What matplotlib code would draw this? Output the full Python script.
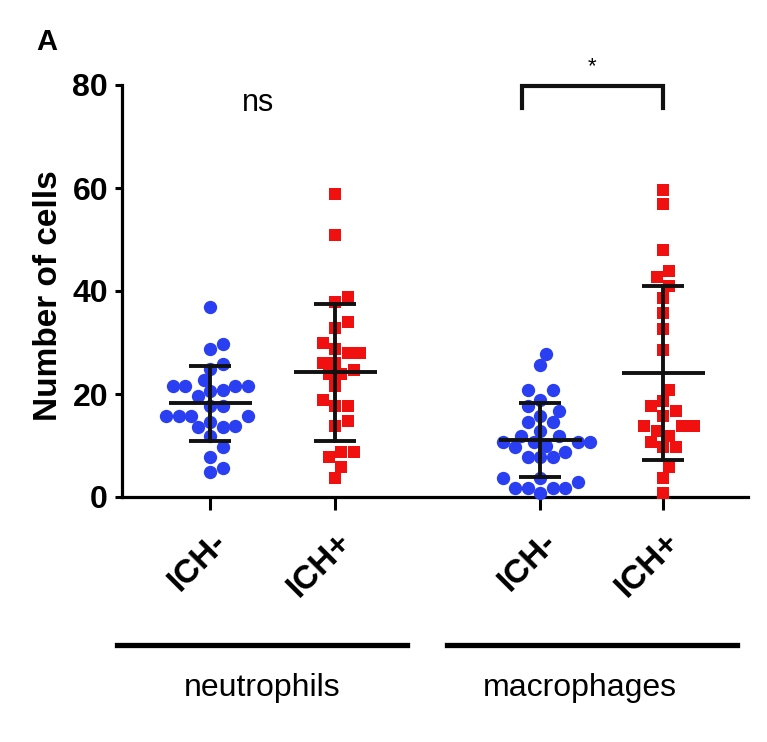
import numpy as np
import matplotlib
matplotlib.use('Agg')
import matplotlib.pyplot as plt
from matplotlib.lines import Line2D
from matplotlib.transforms import ScaledTranslation

plt.rcParams['font.family'] = ['Liberation Sans', 'DejaVu Sans']

# values
neut_neg = [36.8, 29.8, 28.8, 25.9, 24.9, 21.6, 21.6, 20.8, 20.6, 21.6, 21.6, 22.8,
            19.7, 17.7, 17.7, 15.8, 15.8, 15.8, 15.8, 14.6, 13.8, 13.6, 13.6, 11.9,
            9.7, 7.8, 5.6, 4.9]
neut_pos = [58.9, 50.8, 38.9, 37.9, 33.9, 32.9, 30.0, 28.8, 28.0, 28.0, 26.1, 26.1,
            23.8, 24.7, 23.8, 21.6, 18.9, 17.7, 17.7, 14.8, 13.8, 8.8, 8.8, 7.8,
            5.8, 3.7]
mac_neg = [27.8, 25.7, 20.8, 20.8, 18.9, 17.7, 16.7, 15.8, 14.6, 14.6, 12.8, 11.9,
           11.9, 10.7, 10.7, 10.7, 10.7, 9.9, 9.7, 8.8, 7.8, 7.8, 7.8, 3.7, 3.7,
           2.9, 1.8, 1.8, 1.8, 1.8, 0.8]
mac_pos = [59.7, 56.8, 47.9, 43.8, 42.8, 40.9, 38.7, 35.8, 32.7, 28.6, 20.8, 18.7,
           17.7, 16.7, 15.8, 13.8, 13.8, 13.8, 12.8, 11.9, 10.7, 9.7, 9.7, 5.8,
           3.7, 0.8]
means = [18.2, 24.2, 11.1, 24.05]
sds = [7.3, 13.3, 7.2, 16.85]
tick_labels = ['ICH-', 'ICH+', 'ICH-', 'ICH+']
groups = ['neutrophils', 'macrophages']

series = [neut_neg, neut_pos, mac_neg, mac_pos]
xpos = [1.0, 2.0, 3.64, 4.624]
colors = ['#2a3ef2', '#f01010', '#2a3ef2', '#f01010']
markers = ['o', 's', 'o', 's']

W, H = 767, 742
fig = plt.figure(figsize=(W/100, H/100), dpi=100)
ax = fig.add_axes([122/W, 1-497/H, 626/W, 412/H])
ax.set_xlim(0.296, 5.304)
ax.set_ylim(0, 80)


def swarm(x0, vals, d):
    # simple beeswarm in pixel space
    pts = ax.transData.transform(np.column_stack([np.full(len(vals), x0), vals]))
    cands = [0.0] + [s*k*d/2 for k in range(1, 30) for s in (1, -1)]
    placed = []
    offs = np.zeros(len(vals))
    for i in np.argsort(pts[:, 1]):
        y = pts[i, 1]
        for c in cands:
            if all((c-px)**2 + (y-py)**2 >= (0.97*d)**2 for px, py in placed):
                break
        placed.append((c, y))
        offs[i] = c
    back = ax.transData.inverted().transform(np.column_stack([pts[:, 0]+offs, pts[:, 1]]))
    return back[:, 0]


for x0, vals, c, m in zip(xpos, series, colors, markers):
    xs = swarm(x0, vals, 12.5)
    ax.scatter(xs, vals, s=92 if m == 'o' else 72, marker=m, color=c,
               linewidths=0, clip_on=False, zorder=3)

# mean and SD
for x0, mu, sd in zip(xpos, means, sds):
    ax.plot([x0-0.332, x0+0.332], [mu, mu], color='#111111', lw=2.8, zorder=4, solid_capstyle='butt')
    ax.plot([x0, x0], [mu-sd, mu+sd], color='#111111', lw=2.8, zorder=4)
    for yy in (mu-sd, mu+sd):
        ax.plot([x0-0.168, x0+0.168], [yy, yy], color='#111111', lw=2.8, zorder=4, solid_capstyle='butt')

ax.spines['top'].set_visible(False)
ax.spines['right'].set_visible(False)
for s in ('left', 'bottom'):
    ax.spines[s].set_linewidth(2.3)
ax.set_yticks([0, 20, 40, 60, 80])
ax.tick_params(axis='y', length=5, width=2.2, pad=5, labelsize=23)
for t in ax.get_yticklabels():
    t.set_fontweight('bold')
ax.set_xticks(xpos)
ax.set_xticklabels(tick_labels, rotation=45, ha='right', va='center',
                   rotation_mode='anchor', fontsize=24, fontweight='bold')
ax.tick_params(axis='x', length=9, width=2.2, pad=20)
for t in ax.get_xticklabels():
    t.set_transform(t.get_transform() + ScaledTranslation(0.12, 0, fig.dpi_scale_trans))

# annotations
ax.text(1.385, 75, 'ns', fontsize=22, ha='center', va='baseline')
ax.plot([3.496, 3.496, 4.624, 4.624], [75.5, 79.8, 79.8, 75.5], color='#111111', lw=3,
        clip_on=False, solid_joinstyle='miter')
ax.text(4.06, 81.5, '*', fontsize=16, ha='center', va='bottom')

fig.text(49/W, 1-296/H, 'Number of cells', rotation=90, ha='center', va='center',
         fontsize=24, fontweight='bold')
fig.text(36/W, 1-42/H, 'A', fontsize=21, fontweight='bold', ha='left', va='center')

# group underlines
for (x1, x2), name, cx in zip([(117, 407), (447, 737)], groups, [262, 580]):
    fig.add_artist(Line2D([x1/W, x2/W], [1-645/H, 1-645/H], color='black', lw=3.8))
    fig.text(cx/W, 1-688/H, name, fontsize=23, ha='center', va='center')

fig.savefig('out.png', dpi=100)
